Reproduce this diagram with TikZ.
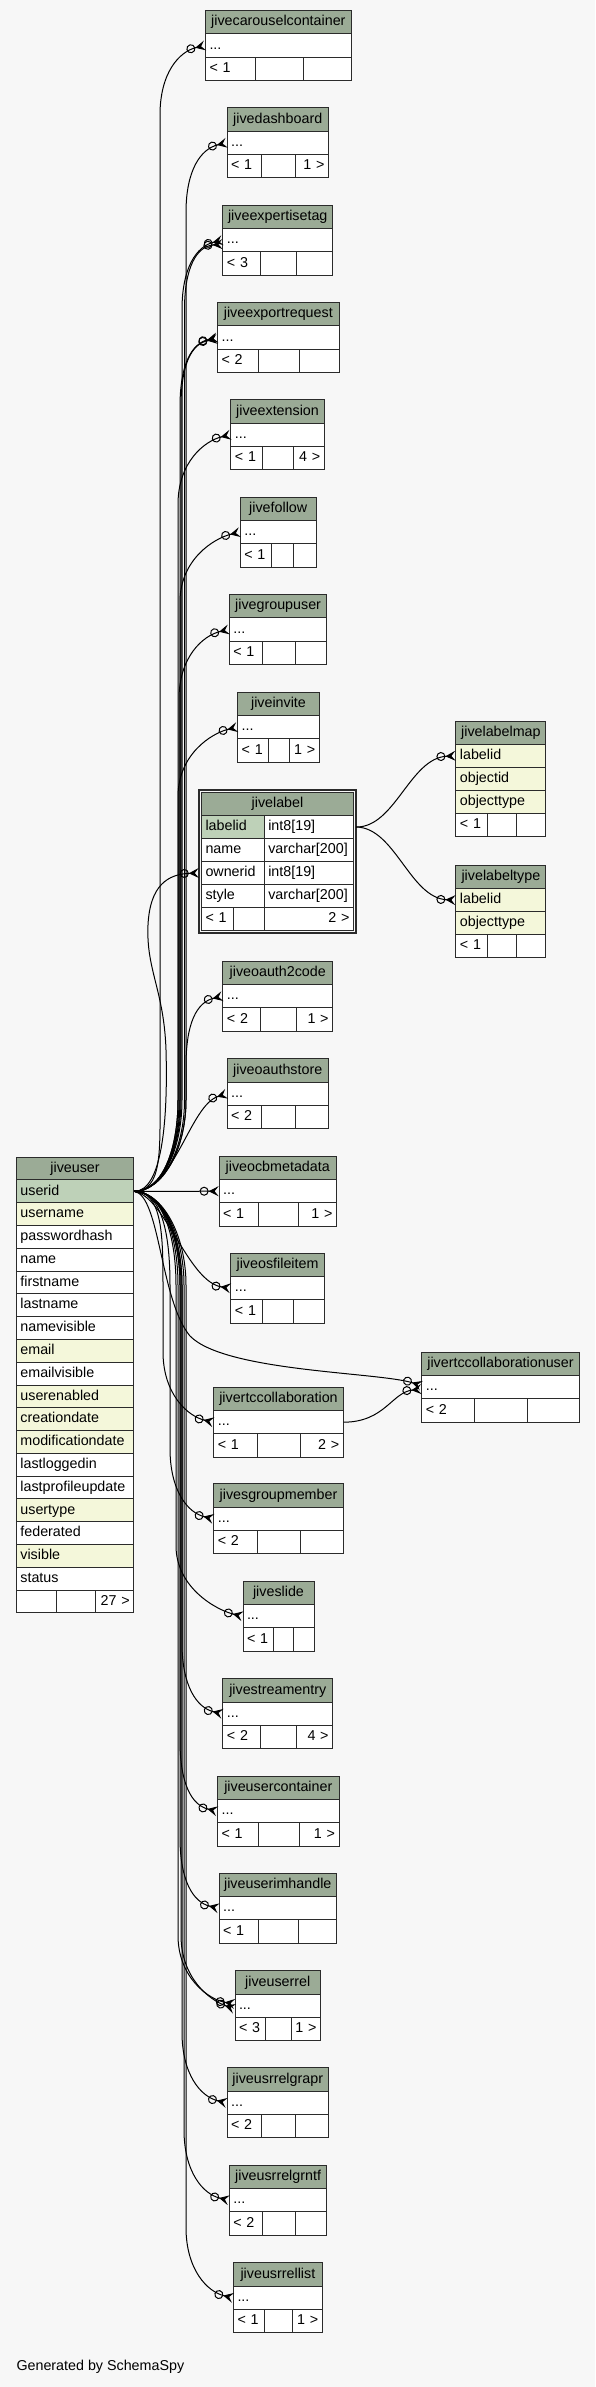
\documentclass[tikz,border=0pt]{standalone}
\usepackage{fontspec}
\setmainfont{Liberation Sans}
\usetikzlibrary{arrows.meta}

\definecolor{hdrgreen}{HTML}{9BAB96}
\definecolor{pkgreen}{HTML}{BED1B8}
\definecolor{idxyellow}{HTML}{F4F7DA}
\definecolor{canvasgray}{HTML}{F7F7F7}
\definecolor{gridline}{HTML}{2B2B2B}

\tikzset{
  cellbox/.style={draw=gridline, line width=1pt, anchor=north west, inner xsep=4pt, inner ysep=0pt,
    minimum height=23.33pt, text height=10.4pt, text depth=3pt, font=\fontsize{14.3}{16}\selectfont},
  hdrcell/.style={cellbox, fill=hdrgreen, align=center},
  rowcell/.style={cellbox, fill=white, align=left},
  idxcell/.style={cellbox, fill=idxyellow, align=left},
  pkcell/.style={cellbox, fill=pkgreen, align=left},
  footr/.style={cellbox, fill=white, align=right},
  fk/.style={line width=1pt, -{Circle[open, length=9pt, width=9pt] Stealth[reversed, length=10pt, width=10pt, inset=4pt]}},
}

\begin{document}
\begin{tikzpicture}[x=1pt, y=-1pt]
    \useasboundingbox (0,0) rectangle (595,2387);
    \fill[canvasgray] (0,0) rectangle (595,2387);

    % tables that point to jiveuser
    \foreach \nm/\xl/\xr/\ty/\xa/\xb/\lf/\rt in {
        jivecarouselcontainer/205/350.7/10/254.6/302.8/{< 1}/{},
        jivedashboard/226.6/327.9/107.3/261.1/294.9/{< 1}/{1 >},
        jiveexpertisetag/222.4/332.1/204.7/260/295.6/{< 3}/{},
        jiveexportrequest/217.1/338.5/302/258.4/298.7/{< 2}/{},
        jiveextension/230.4/323.7/399.3/262.2/293.4/{< 1}/{4 >},
        jivefollow/239.8/315.7/496.7/270.6/293.4/{< 1}/{},
        jivegroupuser/228.8/326.4/594/262.2/294.9/{< 1}/{},
        jiveinvite/237.2/318.8/691.7/267.9/289.2/{< 1}/{1 >},
        jiveoauth2code/222.4/332.1/960.7/260/295.6/{< 2}/{1 >},
        jiveoauthstore/226.6/327.9/1058.3/261.1/294.9/{< 2}/{},
        jiveocbmetadata/218.6/335.9/1155.7/258.4/297.5/{< 1}/{1 >},
        jiveosfileitem/230.4/323.7/1252.7/262.2/293.4/{< 1}/{},
        jivertccollaboration/213.3/342.7/1386.7/257.3/299.8/{< 1}/{2 >},
        jivesgroupmember/213.3/342.7/1483.3/257.3/299.8/{< 2}/{},
        jiveslide/242.5/313.5/1580.7/272.9/293/{< 1}/{},
        jivestreamentry/222.4/332.1/1678.3/260/295.6/{< 2}/{4 >},
        jiveusercontainer/217.1/338.5/1775.7/258.4/298.7/{< 1}/{1 >},
        jiveuserimhandle/218.6/335.9/1872.7/258.4/297.5/{< 1}/{},
        jiveuserrel/234.5/320/1970.3/265.3/290.7/{< 3}/{1 >},
        jiveusrrelgrapr/226.6/327.9/2067.3/261.1/294.9/{< 2}/{},
        jiveusrrelgrntf/228.8/326.4/2164.7/262.2/294.9/{< 2}/{},
        jiveusrrellist/233/321.8/2262.3/263.8/292.2/{< 1}/{1 >},
        jivertccollaborationuser/421.3/578.7/1351.7/474.4/526.8/{< 2}/{}}{
        \pgfmathsetmacro\tw{\xr-\xl-8}
        \pgfmathsetmacro\wa{\xa-\xl-8}
        \pgfmathsetmacro\wb{\xb-\xa-8}
        \pgfmathsetmacro\wc{\xr-\xb-8}
        \node[hdrcell, text width=\tw pt] (\nm-h) at (\xl,\ty) {\nm};
        \node[rowcell, text width=\tw pt] (\nm-r) at (\xl,{\ty+23.33}) {...};
        \node[rowcell, text width=\wa pt] (\nm-fa) at (\xl,{\ty+46.67}) {\lf};
        \node[rowcell, text width=\wb pt] (\nm-fb) at (\xa,{\ty+46.67}) {};
        \node[footr, text width=\wc pt] (\nm-fc) at (\xb,{\ty+46.67}) {\rt};
    }

    % jiveuser
    \node[hdrcell, text width=109.3pt, minimum height=22.78pt] (ju-h) at (15.9,1156.7) {jiveuser};
    \foreach \col/\sty [count=\i] in {userid/pkcell, username/idxcell, passwordhash/rowcell, name/rowcell,
        firstname/rowcell, lastname/rowcell, namevisible/rowcell, email/idxcell, emailvisible/rowcell,
        userenabled/idxcell, creationdate/idxcell, modificationdate/idxcell, lastloggedin/rowcell,
        lastprofileupdate/rowcell, usertype/idxcell, federated/rowcell, visible/idxcell, status/rowcell}
        \node[\sty, text width=109.3pt, minimum height=22.78pt] (ju-\col) at (15.9,{1156.7+22.78*\i}) {\col};
    \node[rowcell, text width=31.9pt, minimum height=22.78pt] (ju-fa) at (15.9,1589.5) {};
    \node[rowcell, text width=31.1pt, minimum height=22.78pt] (ju-fb) at (55.8,1589.5) {};
    \node[footr, text width=30.3pt, minimum height=22.78pt] (ju-fc) at (94.9,1589.5) {27 >};

    % jivelabel
    \node[hdrcell, text width=144pt, minimum height=23pt] (jl-h) at (201,792) {jivelabel};
    \foreach \col/\typ/\sty [count=\i] in {labelid/{int8[19]}/pkcell, name/{varchar[200]}/rowcell,
        ownerid/{int8[19]}/rowcell, style/{varchar[200]}/rowcell}{
        \node[\sty, text width=54.8pt, minimum height=23pt] (jl-\col) at (201,{792+23*\i}) {\col};
        \node[rowcell, text width=81.2pt, minimum height=23pt] (jl-\col-t) at (263.8,{792+23*\i}) {\typ};
    }
    \node[rowcell, text width=24pt, minimum height=23pt] (jl-fa) at (201,907) {< 1};
    \node[rowcell, text width=22.8pt, minimum height=23pt] (jl-fb) at (233,907) {};
    \node[footr, text width=81.2pt, minimum height=23pt] (jl-fc) at (263.8,907) {2 >};
    \draw[gridline, line width=2.4pt] ([xshift=-2.2pt,yshift=2.2pt]jl-h.north west) rectangle ([xshift=2.2pt,yshift=-2.2pt]jl-fc.south east);

    % jivelabelmap and jivelabeltype
    \node[hdrcell, text width=82pt, minimum height=23.07pt] (lm-h) at (455.4,720.7) {jivelabelmap};
    \foreach \col [count=\i] in {labelid, objectid, objecttype}
        \node[idxcell, text width=82pt, minimum height=23.07pt] (lm-\col) at (455.4,{720.7+23.07*\i}) {\col};
    \node[rowcell, text width=23.1pt, minimum height=23.07pt] (lm-fa) at (455.4,813) {< 1};
    \node[rowcell, text width=21.6pt, minimum height=23.07pt] (lm-fb) at (486.5,813) {};
    \node[rowcell, text width=21.3pt, minimum height=23.07pt] (lm-fc) at (516.1,813) {};

    \node[hdrcell, text width=82pt, minimum height=23.07pt] (lt-h) at (455.4,865) {jivelabeltype};
    \foreach \col [count=\i] in {labelid, objecttype}
        \node[idxcell, text width=82pt, minimum height=23.07pt] (lt-\col) at (455.4,{865+23.07*\i}) {\col};
    \node[rowcell, text width=23.1pt, minimum height=23.07pt] (lt-fa) at (455.4,934.2) {< 1};
    \node[rowcell, text width=21.6pt, minimum height=23.07pt] (lt-fb) at (486.5,934.2) {};
    \node[rowcell, text width=21.3pt, minimum height=23.07pt] (lt-fc) at (516.1,934.2) {};

    % Connections from jiveuser.userid, upwards
    \foreach \nm/\xv/\yc/\dy in {jivecarouselcontainer/160/45/0, jivedashboard/186/142.3/0,
        jiveexpertisetag/182/239.7/0, jiveexpertisetag/184.5/239.7/-4,
        jiveexportrequest/180/337/0, jiveexportrequest/181/337/-1.5,
        jiveextension/178/434.3/0, jivefollow/180/531.7/0, jivegroupuser/179/629/0,
        jiveinvite/178/726.7/0, jiveoauth2code/186/995.7/0}
        \draw[fk] (ju-userid.east) .. controls +(28,0) and (\xv,1150) .. (\xv,1100) -- (\xv,{\yc+70})
            .. controls (\xv,{\yc+28}) and ([xshift=-26pt,yshift=-6pt]\nm-r.west) .. ([yshift=\dy pt]\nm-r.west);

    % Connections from jiveuser.userid, downwards
    \foreach \nm/\xv/\yc/\dy in {jivertccollaboration/163/1421.7/0, jivesgroupmember/170/1518.3/0,
        jiveslide/176/1615.7/0, jivestreamentry/182/1713.3/0, jiveusercontainer/180/1810.7/0,
        jiveuserimhandle/180/1907.7/0, jiveuserrel/178/2005.3/2, jiveuserrel/181/2005.3/-3,
        jiveusrrelgrapr/182/2102.3/0, jiveusrrelgrntf/184/2199.7/0, jiveusrrellist/186/2297.3/0}
        \draw[fk] (ju-userid.east) .. controls +(28,0) and (\xv,1235) .. (\xv,1285) -- (\xv,{\yc-70})
            .. controls (\xv,{\yc-28}) and ([xshift=-26pt,yshift=6pt]\nm-r.west) .. ([yshift=\dy pt]\nm-r.west);

    \draw[fk] (ju-userid.east) -- (jiveocbmetadata-r.west);
    \draw[fk] (ju-userid.east) .. controls (175,1190) and (190,1105) .. (jiveoauthstore-r.west);
    \draw[fk] (ju-userid.east) .. controls (165,1196) and (188,1282) .. (jiveosfileitem-r.west);
    \draw[fk] (ju-userid.east) .. controls (160,1195) and (160,1300) .. (190,1336)
        .. controls (225,1372) and (380,1372) .. ([yshift=1.5pt]jivertccollaborationuser-r.west);
    \draw[fk] (jivertccollaboration-r.east) .. controls (385,1422) and (392,1392) .. ([yshift=-2pt]jivertccollaborationuser-r.west);
    \draw[fk] (ju-userid.east) .. controls +(28,0) and (168,1120) .. (166,1050) .. controls (164,990) and (146,970) .. (148,925)
        .. controls (150,885) and (168,874) .. ([xshift=-2.2pt]jl-ownerid.west);

    % jivelabel.labelid to the label tables
    \draw[fk] ([xshift=2.2pt]jl-labelid-t.east) .. controls (395,827.5) and (410,758) .. (lm-labelid.west);
    \draw[fk] ([xshift=2.2pt]jl-labelid-t.east) .. controls (395,827.5) and (410,898) .. (lt-labelid.west);

    \node[anchor=west, inner sep=0pt, font=\fontsize{14.3}{16}\selectfont] (credit) at (16.3,2366.7) {Generated by SchemaSpy};
\end{tikzpicture}
\end{document}
